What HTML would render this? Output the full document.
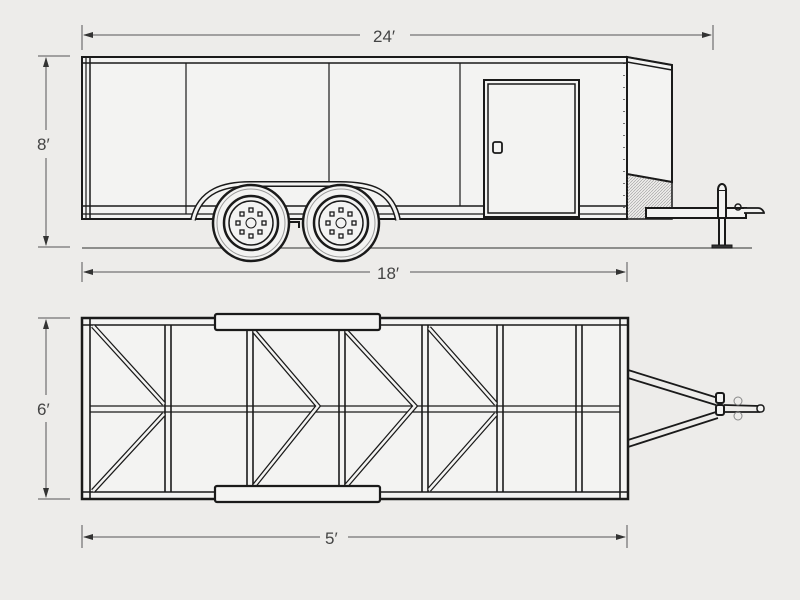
<!DOCTYPE html>
<html><head><style>
html,body{margin:0;padding:0;background:#edecea;}
svg{display:block;}
text{font-family:"Liberation Sans",sans-serif;font-size:17px;fill:#444;}
</style></head><body>
<svg width="800" height="600" viewBox="0 0 800 600" xmlns="http://www.w3.org/2000/svg">
<defs>
<pattern id="h" width="3" height="3" patternUnits="userSpaceOnUse"><path d="M0 3L3 0" stroke="#999" stroke-width="0.6"/></pattern>
<marker id="a" markerWidth="10" markerHeight="6" refX="9" refY="3" orient="auto"><path d="M0 0L10 3L0 6Z" fill="#333"/></marker>
</defs>
<rect width="800" height="600" fill="#edecea"/>
<g stroke="#555" stroke-width="1" fill="none">
<line x1="82" y1="25" x2="82" y2="50"/><line x1="713" y1="25" x2="713" y2="50"/>
<line x1="360" y1="35" x2="84" y2="35" marker-end="url(#a)"/><line x1="410" y1="35" x2="711" y2="35" marker-end="url(#a)"/>
<line x1="38" y1="56" x2="70" y2="56"/><line x1="38" y1="247" x2="70" y2="247"/>
<line x1="46" y1="130" x2="46" y2="58" marker-end="url(#a)"/><line x1="46" y1="158" x2="46" y2="245" marker-end="url(#a)"/>
<line x1="82" y1="262" x2="82" y2="282"/><line x1="627" y1="262" x2="627" y2="282"/>
<line x1="370" y1="272" x2="84" y2="272" marker-end="url(#a)"/><line x1="410" y1="272" x2="625" y2="272" marker-end="url(#a)"/>
<line x1="38" y1="318" x2="70" y2="318"/><line x1="38" y1="499" x2="70" y2="499"/>
<line x1="46" y1="395" x2="46" y2="320" marker-end="url(#a)"/><line x1="46" y1="422" x2="46" y2="497" marker-end="url(#a)"/>
<line x1="82" y1="525" x2="82" y2="548"/><line x1="627" y1="525" x2="627" y2="548"/>
<line x1="320" y1="537" x2="84" y2="537" marker-end="url(#a)"/><line x1="348" y1="537" x2="625" y2="537" marker-end="url(#a)"/>
</g>
<text x="373" y="42">24′</text><text x="37" y="150">8′</text><text x="377" y="279">18′</text>
<text x="37" y="415">6′</text><text x="325" y="544">5′</text>

<g stroke="#1a1a1a" fill="none">
<rect x="82" y="57" width="545" height="162" fill="#f3f3f2" stroke-width="2"/>
<path d="M627 57L672 65L672 182L627 174Z" fill="#f3f3f2" stroke-width="2"/>
<path d="M627 174L672 182L672 219L627 219Z" fill="url(#h)" stroke-width="1.5"/>
<path d="M627 57L672 65M627 62L672 70" stroke-width="1.5"/>
<line x1="82" y1="63" x2="627" y2="63" stroke-width="1.5"/>
<line x1="86" y1="57" x2="86" y2="219" stroke-width="1.2"/><line x1="90" y1="57" x2="90" y2="219" stroke-width="1.5"/>
<line x1="82" y1="206" x2="627" y2="206" stroke-width="1.5"/><line x1="82" y1="214" x2="627" y2="214" stroke-width="1.2"/>
<line x1="186" y1="63" x2="186" y2="214" stroke-width="1.2"/>
<line x1="329" y1="63" x2="329" y2="206" stroke-width="1.2"/>
<line x1="460" y1="63" x2="460" y2="206" stroke-width="1.2"/>
<line x1="624" y1="63" x2="624" y2="219" stroke-width="1.2" stroke-dasharray="1 11"/>
<rect x="484" y="80" width="95" height="137" fill="#f3f3f2" stroke-width="2"/>
<rect x="488" y="84" width="87" height="129" stroke-width="1.5"/>
<rect x="493" y="142" width="9" height="11" rx="2" stroke-width="1.8"/>
<line x1="82" y1="248" x2="752" y2="248" stroke="#555" stroke-width="1.2"/>
<path d="M193 220 C200 190 225 184 250 184 L340 184 C370 184 392 190 398 220" stroke-width="6"/>
<path d="M193 220 C200 190 225 184 250 184 L340 184 C370 184 392 190 398 220" stroke="#f3f3f2" stroke-width="3"/>
<g fill="#f3f3f2">
<circle cx="251" cy="223" r="38" stroke-width="2.5"/><circle cx="251" cy="223" r="34" stroke="#999" stroke-width="1"/>
<circle cx="251" cy="223" r="27" stroke-width="2.5"/><circle cx="251" cy="223" r="22" stroke-width="1.5"/>
<circle cx="251" cy="223" r="5" stroke-width="1"/>
<circle cx="341" cy="223" r="38" stroke-width="2.5"/><circle cx="341" cy="223" r="34" stroke="#999" stroke-width="1"/>
<circle cx="341" cy="223" r="27" stroke-width="2.5"/><circle cx="341" cy="223" r="22" stroke-width="1.5"/>
<circle cx="341" cy="223" r="5" stroke-width="1"/>
</g>
<g stroke-width="1.3">
<rect x="249" y="208" width="4" height="4"/><rect x="249" y="234" width="4" height="4"/><rect x="236" y="221" width="4" height="4"/><rect x="262" y="221" width="4" height="4"/>
<rect x="240" y="212" width="4" height="4"/><rect x="258" y="212" width="4" height="4"/><rect x="240" y="230" width="4" height="4"/><rect x="258" y="230" width="4" height="4"/>
<rect x="339" y="208" width="4" height="4"/><rect x="339" y="234" width="4" height="4"/><rect x="326" y="221" width="4" height="4"/><rect x="352" y="221" width="4" height="4"/>
<rect x="330" y="212" width="4" height="4"/><rect x="348" y="212" width="4" height="4"/><rect x="330" y="230" width="4" height="4"/><rect x="348" y="230" width="4" height="4"/>
</g>
<path d="M290 222h9v6" stroke-width="2"/>
<rect x="646" y="208" width="100" height="10" fill="#f3f3f2" stroke-width="2"/>
<path d="M744 208h14c4 0 6 4 6 5h-20" fill="#f3f3f2" stroke-width="1.8"/>
<circle cx="738" cy="207" r="3" stroke-width="1.5"/>
<rect x="718" y="190" width="8" height="28" fill="#f3f3f2" stroke-width="2"/>
<path d="M718 190c0-8 8-8 8 0" fill="#f3f3f2" stroke-width="2"/>
<rect x="719" y="218" width="6" height="28" fill="#f3f3f2" stroke-width="2"/>
<rect x="712" y="245" width="20" height="3" fill="#333" stroke-width="1"/>
</g>

<g stroke="#1a1a1a" fill="none">
<path d="M628 370L718 398M628 378L716 405M628 440L716 412M628 447L718 418M724 405L760 406M724 412L760 412" stroke-width="1.8"/>
<rect x="716" y="393" width="8" height="10" rx="2" fill="#f3f3f2" stroke-width="2"/>
<rect x="716" y="405" width="8" height="10" rx="2" fill="#f3f3f2" stroke-width="2"/>
<rect x="757" y="405" width="7" height="7" rx="3" fill="#f3f3f2" stroke-width="1.5"/>
<circle cx="738" cy="401" r="4" stroke="#888" stroke-width="1"/><circle cx="738" cy="416" r="4" stroke="#888" stroke-width="1"/>
<rect x="82" y="318" width="546" height="181" fill="#f3f3f2" stroke-width="2.5"/>
<g stroke-width="1.6">
<line x1="82" y1="325" x2="628" y2="325"/><line x1="82" y1="492" x2="628" y2="492"/>
<line x1="90" y1="318" x2="90" y2="499"/><line x1="620" y1="318" x2="620" y2="499"/>
<line x1="90" y1="406" x2="620" y2="406" stroke-width="1.3"/><line x1="90" y1="412" x2="620" y2="412" stroke-width="1.3"/>
<line x1="165" y1="325" x2="165" y2="492"/><line x1="171" y1="325" x2="171" y2="492"/>
<line x1="247" y1="330" x2="247" y2="487"/><line x1="253" y1="330" x2="253" y2="487"/>
<line x1="339" y1="330" x2="339" y2="487"/><line x1="345" y1="330" x2="345" y2="487"/>
<line x1="422" y1="325" x2="422" y2="492"/><line x1="428" y1="325" x2="428" y2="492"/>
<line x1="497" y1="325" x2="497" y2="492"/><line x1="503" y1="325" x2="503" y2="492"/>
<line x1="576" y1="325" x2="576" y2="492"/><line x1="582" y1="325" x2="582" y2="492"/>
</g>
<g stroke-width="5">
<path d="M93 326L164 404M164 414L93 491M254 331L318 406L254 486M346 331L415 406L346 486M429 328L496 404M496 414L429 490"/>
</g>
<g stroke="#f3f3f2" stroke-width="2.5">
<path d="M93 326L164 404M164 414L93 491M254 331L318 406L254 486M346 331L415 406L346 486M429 328L496 404M496 414L429 490"/>
</g>
<rect x="215" y="314" width="165" height="16" rx="2" fill="#f3f3f2" stroke-width="2.2"/>
<rect x="215" y="486" width="165" height="16" rx="2" fill="#f3f3f2" stroke-width="2.2"/>
</g>
</svg>
</body></html>
